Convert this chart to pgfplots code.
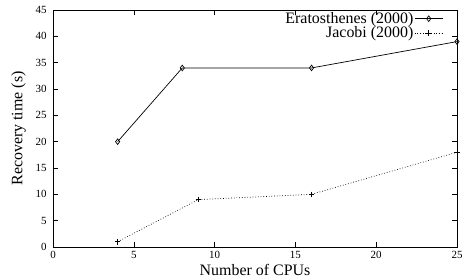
\documentclass[border=0pt]{standalone}
\usepackage{pgfplots}
\pgfplotsset{compat=1.18}
\usepackage{fontspec}
\setmainfont{Liberation Serif}
\begin{document}
\begin{tikzpicture}
\begin{axis}[
  at={(53bp,33bp)}, anchor=south west,
  width=404bp, height=237bp, scale only axis,
  xmin=0, xmax=25, ymin=0, ymax=45,
  xtick={0,5,...,25}, ytick={0,5,...,45},
  tick align=inside, major tick length=5bp,
  axis line style={line width=0.8bp},
  every tick/.style={black, line width=0.6bp},
  /pgf/number format/assume math mode=true,
  tick label style={font=\fontsize{11}{11}\selectfont},
  xticklabel style={yshift=-1bp},
  yticklabel style={xshift=-3bp},
  xlabel={Number of CPUs},
  ylabel={Recovery time (s)},
  label style={font=\fontsize{16}{16}\selectfont},
  xlabel style={at={(axis description cs:0.5,-0.098)}, anchor=center},
  ylabel style={at={(axis description cs:-0.085,0.5)}, anchor=center},
  legend plot pos=right,
  legend cell align=right,
  legend image code/.code={\draw[mark repeat=2,mark phase=2,#1] plot coordinates {(0bp,0bp)(14bp,0bp)(28bp,0bp)};},
  legend style={draw=none, fill=none, at={(axis description cs:0.966,0.995)}, anchor=north east,
    font=\fontsize{16}{16}\selectfont, row sep=0bp, inner sep=0pt,
    nodes={inner sep=1bp}},
]
\addplot[black, line width=0.7bp, mark=diamond, mark size=2.8bp, mark options={solid, line width=0.7bp}]
  coordinates {(4,20) (8,34) (16,34) (25,39)};
\addlegendentry{Eratosthenes (2000)}
\addplot[black, line width=0.7bp, dotted, mark=+, mark size=2.8bp, mark options={solid, line width=0.7bp}]
  coordinates {(4,1) (9,9) (16,10) (25,18)};
\addlegendentry{Jacobi (2000)}
\end{axis}
\pgfresetboundingbox
\path[use as bounding box] (0,0) rectangle (462bp,280bp);
\end{tikzpicture}
\end{document}
